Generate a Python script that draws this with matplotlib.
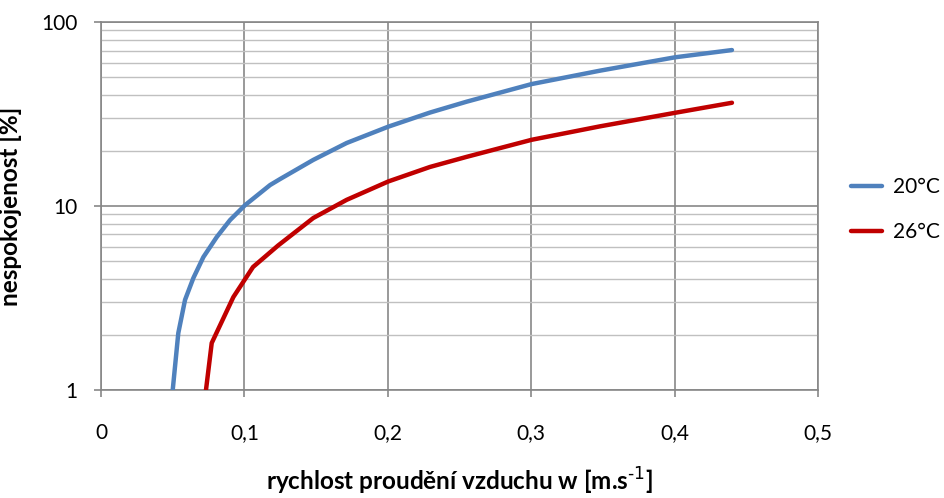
import matplotlib
matplotlib.use("Agg")
import matplotlib.pyplot as plt
from matplotlib.ticker import FixedLocator, FuncFormatter, LogLocator, NullFormatter

plt.rcParams['font.family'] = ['Lato', 'DejaVu Sans']

# data
v_20 = [0.050, 0.0539, 0.0586, 0.0644, 0.0714, 0.0807, 0.090, 0.1004, 0.1179, 0.1248,
        0.148, 0.1713, 0.2004, 0.2294, 0.255, 0.3003, 0.348, 0.4003, 0.44]
dr_20 = [1.0, 2.04, 3.09, 4.06, 5.28, 6.78, 8.39, 10.1, 13.0, 14.0,
         17.8, 22.0, 27.0, 32.2, 36.9, 46.0, 54.4, 64.3, 70.4]
v_26 = [0.0732, 0.0772, 0.0923, 0.106, 0.1235, 0.148, 0.1713, 0.2004, 0.2294, 0.255,
        0.3003, 0.348, 0.4003, 0.44]
dr_26 = [1.0, 1.80, 3.2, 4.66, 6.1, 8.6, 10.8, 13.6, 16.3, 18.5,
         22.9, 27.1, 32.1, 36.4]

x_ticks = [0, 0.1, 0.2, 0.3, 0.4, 0.5]
y_ticks = [1, 10, 100]
labels = ['20°C', '26°C']
colors = ['#4f81bd', '#c00000']

fig = plt.figure(figsize=(9.45, 4.98), dpi=100)
ax = fig.add_axes([0.1069, 0.2169, 0.7587, 0.7389])

ax.plot(v_20, dr_20, color=colors[0], lw=3.2, label=labels[0], solid_capstyle='round',
        solid_joinstyle='round', zorder=3)
ax.plot(v_26, dr_26, color=colors[1], lw=3.2, label=labels[1], solid_capstyle='round',
        solid_joinstyle='round', zorder=3)

ax.set_yscale('log')
ax.set_ylim(1, 100)
ax.set_xlim(0, 0.5)
ax.xaxis.set_major_locator(FixedLocator(x_ticks))
ax.xaxis.set_major_formatter(FuncFormatter(lambda x, p: ('%g' % x).replace('.', ',')))
ax.yaxis.set_major_locator(FixedLocator(y_ticks))
ax.yaxis.set_major_formatter(FuncFormatter(lambda y, p: '%d' % y))
ax.yaxis.set_minor_locator(LogLocator(base=10, subs=range(2, 10)))
ax.yaxis.set_minor_formatter(NullFormatter())

ax.grid(True, which='major', axis='both', color='#878787', lw=1.2, zorder=1)
ax.grid(True, which='minor', axis='y', color='#c0c0c0', lw=1.0, zorder=1)
for s in ax.spines.values():
    s.set_color('#878787')
    s.set_linewidth(1.2)
ax.tick_params(axis='both', which='major', length=5, width=1.2, color='#878787',
               labelsize=15)
ax.tick_params(axis='x', which='major', pad=19)
ax.tick_params(axis='y', which='major', pad=12)
ax.tick_params(axis='y', which='minor', length=0)

ax.set_xlabel('rychlost proudění vzduchu w [m.s$^{\\text{-1}}$]', fontsize=17.5,
              fontweight='bold', labelpad=16)
ax.set_ylabel('nespokojenost [%]', fontsize=17.5, fontweight='bold', labelpad=14)

fig.legend(loc='center left', bbox_to_anchor=(0.881, 0.5793), frameon=False, fontsize=15,
           handlelength=1.45, labelspacing=1.2, handletextpad=0.53)

fig.savefig('out.png', dpi=100)
